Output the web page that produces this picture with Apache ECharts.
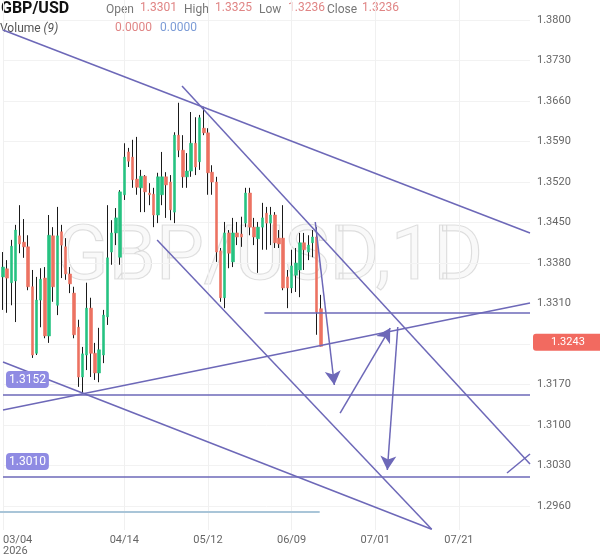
<!DOCTYPE html>
<html>
<head>
<meta charset="utf-8">
<script src="https://cdn.jsdelivr.net/npm/echarts@6/dist/echarts.min.js"></script>
<style>
  html, body { margin: 0; padding: 0; background: #fff; }
  #chart { width: 600px; height: 558px; }
</style>
</head>
<body>
<div id="chart"></div>
<script>
// daily candles: [open, close, low, high]
const candles = [
  [1.3356, 1.3373, 1.3299, 1.3399], [1.3370, 1.3354, 1.3294, 1.3385], [1.3346, 1.3409, 1.3307, 1.3420],
  [1.3349, 1.3437, 1.3278, 1.3446], [1.3427, 1.3413, 1.3397, 1.3480], [1.3416, 1.3408, 1.3389, 1.3456],
  [1.3408, 1.3339, 1.3333, 1.3428], [1.3339, 1.3221, 1.3216, 1.3368], [1.3224, 1.3316, 1.3221, 1.3356],
  [1.3316, 1.3352, 1.3269, 1.3371], [1.3354, 1.3254, 1.3250, 1.3373], [1.3254, 1.3428, 1.3242, 1.3463],
  [1.3427, 1.3339, 1.3313, 1.3442], [1.3307, 1.3427, 1.3290, 1.3477], [1.3434, 1.3411, 1.3354, 1.3446],
  [1.3408, 1.3361, 1.3351, 1.3423], [1.3361, 1.3344, 1.3328, 1.3373], [1.3328, 1.3256, 1.3250, 1.3339],
  [1.3269, 1.3183, 1.3166, 1.3282], [1.3183, 1.3223, 1.3155, 1.3235], [1.3221, 1.3302, 1.3195, 1.3346],
  [1.3302, 1.3224, 1.3183, 1.3320], [1.3224, 1.3190, 1.3178, 1.3242], [1.3190, 1.3230, 1.3174, 1.3268],
  [1.3221, 1.3290, 1.3207, 1.3299], [1.3287, 1.3389, 1.3273, 1.3480], [1.3399, 1.3432, 1.3377, 1.3454],
  [1.3432, 1.3458, 1.3411, 1.3475], [1.3390, 1.3503, 1.3377, 1.3506], [1.3498, 1.3563, 1.3489, 1.3587],
  [1.3572, 1.3556, 1.3546, 1.3579], [1.3563, 1.3524, 1.3510, 1.3593], [1.3525, 1.3511, 1.3498, 1.3598],
  [1.3510, 1.3530, 1.3468, 1.3541], [1.3530, 1.3503, 1.3468, 1.3532], [1.3501, 1.3498, 1.3480, 1.3518],
  [1.3499, 1.3463, 1.3442, 1.3510], [1.3463, 1.3529, 1.3449, 1.3536], [1.3498, 1.3529, 1.3480, 1.3572],
  [1.3529, 1.3515, 1.3458, 1.3537], [1.3520, 1.3472, 1.3454, 1.3532], [1.3468, 1.3601, 1.3449, 1.3606],
  [1.3601, 1.3575, 1.3563, 1.3657], [1.3575, 1.3529, 1.3510, 1.3601], [1.3529, 1.3539, 1.3510, 1.3570],
  [1.3539, 1.3587, 1.3529, 1.3641], [1.3587, 1.3546, 1.3532, 1.3632], [1.3555, 1.3631, 1.3541, 1.3636],
  [1.3613, 1.3605, 1.3601, 1.3650], [1.3605, 1.3536, 1.3498, 1.3613], [1.3537, 1.3520, 1.3498, 1.3549],
  [1.3520, 1.3399, 1.3382, 1.3529], [1.3401, 1.3320, 1.3313, 1.3406], [1.3320, 1.3432, 1.3302, 1.3451],
  [1.3432, 1.3397, 1.3371, 1.3437], [1.3382, 1.3432, 1.3373, 1.3458], [1.3432, 1.3425, 1.3411, 1.3451],
  [1.3430, 1.3425, 1.3408, 1.3460], [1.3449, 1.3501, 1.3442, 1.3510], [1.3501, 1.3442, 1.3428, 1.3510],
  [1.3442, 1.3425, 1.3411, 1.3458], [1.3422, 1.3442, 1.3363, 1.3451], [1.3442, 1.3458, 1.3403, 1.3484],
  [1.3466, 1.3449, 1.3403, 1.3477], [1.3449, 1.3463, 1.3411, 1.3477], [1.3463, 1.3415, 1.3406, 1.3468],
  [1.3423, 1.3413, 1.3406, 1.3437], [1.3423, 1.3337, 1.3333, 1.3480], [1.3356, 1.3337, 1.3302, 1.3368],
  [1.3337, 1.3375, 1.3328, 1.3403], [1.3359, 1.3380, 1.3330, 1.3406], [1.3368, 1.3415, 1.3321, 1.3432],
  [1.3415, 1.3403, 1.3368, 1.3432], [1.3399, 1.3411, 1.3385, 1.3428], [1.3415, 1.3425, 1.3390, 1.3437],
  [1.3425, 1.3295, 1.3256, 1.3442], [1.3301, 1.3236, 1.3236, 1.3325]
]
// volume MA(9) shows 0.0000 for every day
const volumeMA = [
  0, 0, 0, 0, 0, 0, 0, 0, 0, 0, 0, 0, 0, 0, 0, 0, 0, 0, 0, 0, 0, 0, 0, 0, 0, 0,
  0, 0, 0, 0, 0, 0, 0, 0, 0, 0, 0, 0, 0, 0, 0, 0, 0, 0, 0, 0, 0, 0, 0, 0, 0, 0,
  0, 0, 0, 0, 0, 0, 0, 0, 0, 0, 0, 0, 0, 0, 0, 0, 0, 0, 0, 0, 0, 0, 0, 0, 0
]
const yTicks = [1.2960, 1.3030, 1.3100, 1.3170, 1.3240, 1.3310, 1.3380, 1.3450, 1.3520, 1.3590, 1.3660, 1.3730, 1.3800]
const xLabelDates = ['03/04', '04/14', '05/12', '06/09', '07/01', '07/21']
const lastPrice = 1.3243
const levels = [1.3152, 1.3010]
// drawings as [barIndex, price] pairs
const trendLines = [
  [[0, 1.37827], [126, 1.34319]],
  [[42.8, 1.36860], [126, 1.30327]],
  [[36.85, 1.34198], [102.5, 1.2920]],
  [[0, 1.32089], [102.5, 1.2920]],
  [[0, 1.31260], [126, 1.33109]],
  [[62.5, 1.3294], [126, 1.3294]],
  [[120.5, 1.30171], [126, 1.30500]]
]
const arrows = [
  [[74.66, 1.34509], [79.22, 1.31692]],
  [[80.6, 1.31208], [92.58, 1.32677]],
  [[94.39, 1.32694], [91.89, 1.30223]]
]
const ohlcLabels = ['Open', 'High', 'Low', 'Close']
const ohlcValues = ['1.3301', '1.3325', '1.3236', '1.3236']
const volumeValues = ['0.0000', '0.0000']

const TOTAL_BARS = 127
const lineColor = '#6d68b8'
const upColor = '#26c281'
const downColor = '#ec7262'

// trading days for the candles, calendar days after the last one
function buildDates () {
  const out = []
  const d = new Date(2026, 2, 4)
  const fmt = (t) => String(t.getMonth() + 1).padStart(2, '0') + '/' + String(t.getDate()).padStart(2, '0')
  while (out.length < candles.length) {
    const wd = d.getDay()
    if (wd !== 0 && wd !== 6) out.push(fmt(d))
    d.setDate(d.getDate() + 1)
  }
  while (out.length < TOTAL_BARS) {
    out.push(fmt(d))
    d.setDate(d.getDate() + 1)
  }
  return out
}
const dates = buildDates()
const bodies = candles.map(c => [c[0], c[1], Math.min(c[0], c[1]), Math.max(c[0], c[1])])
const showDate = (i, v) => xLabelDates.includes(v)

const lineData = trendLines.map(l => [{ coord: l[0] }, { coord: l[1] }])
levels.forEach(v => {
  lineData.push([
    {
      coord: [0, v],
      label: {
        show: true,
        position: 'insideStartTop',
        formatter: v.toFixed(4),
        color: '#fff',
        fontSize: 12,
        fontFamily: 'Roboto',
        backgroundColor: '#8f8be3',
        borderRadius: 4,
        padding: [3, 3, 2, 3],
        distance: [3, 7]
      }
    },
    { coord: [TOTAL_BARS - 1, v] }
  ])
})
arrows.forEach(a => {
  lineData.push([{ coord: a[0], symbol: 'none' }, { coord: a[1], symbol: 'arrow', symbolSize: [12, 14] }])
})
lineData.push([
  {
    coord: [0, lastPrice],
    lineStyle: { color: 'rgba(0,0,0,0)', width: 0 },
    label: {
      show: true,
      opacity: 1,
      position: 'end',
      formatter: lastPrice.toFixed(4),
      color: '#fff',
      fontSize: 11,
      fontFamily: 'Roboto',
      backgroundColor: '#f26a60',
      borderRadius: 3,
      padding: [3, 18, 3, 18],
      distance: 3
    }
  },
  { coord: [TOTAL_BARS - 1, lastPrice] }
])

const headerText = [
  { type: 'text', left: 1, top: 1, style: { text: 'GBP/USD', font: 'bold 16px Roboto', fill: '#111' } },
  { type: 'text', left: 0, top: 23, style: { text: 'Volume {i|(9)}', font: '12px Roboto', fill: '#555', rich: { i: { fontStyle: 'italic', fontSize: 12, fontFamily: 'Roboto', fill: '#555' } } } }
]
const labelX = [106, 184, 259, 327]
const valueX = [140, 215, 288, 362]
ohlcLabels.forEach((t, i) => {
  headerText.push({ type: 'text', left: labelX[i], top: 4, style: { text: t, font: '12px Roboto', fill: '#777' } })
  headerText.push({ type: 'text', left: valueX[i], top: 2, style: { text: ohlcValues[i], font: '12px Roboto', fill: '#e08585' } })
})
headerText.push({ type: 'text', left: 115, top: 22, style: { text: volumeValues[0], font: '12px Roboto', fill: '#e08585' } })
headerText.push({ type: 'text', left: 160, top: 22, style: { text: volumeValues[1], font: '12px Roboto', fill: '#7b9bd6' } })

const chart = echarts.init(document.getElementById('chart'))
const option = {
  animation: false,
  backgroundColor: '#fff',
  graphic: [
    {
      type: 'text',
      x: 270,
      y: 260,
      z: -10,
      silent: true,
      style: {
        text: 'GBP/USD,1D',
        font: '76px Roboto',
        fill: 'rgba(0,0,0,0.025)',
        stroke: 'rgba(0,0,0,0.12)',
        lineWidth: 1.2,
        textAlign: 'center',
        textVerticalAlign: 'middle'
      }
    },
    ...headerText
  ],
  grid: [
    { left: 0, right: 70, top: 0, bottom: 28 },
    { left: 0, right: 70, top: 500, height: 12 }
  ],
  xAxis: [
    {
      type: 'category',
      data: dates,
      boundaryGap: false,
      axisLine: { show: false },
      axisTick: { show: false },
      axisLabel: {
        interval: showDate,
        formatter: (v, i) => (i === 0 ? v + '\n2026' : v),
        color: '#666',
        fontSize: 11,
        fontFamily: 'Roboto',
        lineHeight: 11,
        margin: 5,
        alignMinLabel: 'left'
      },
      splitLine: { show: true, interval: showDate, lineStyle: { color: '#f0f0f0', width: 1 } }
    },
    { type: 'value', min: 0, max: TOTAL_BARS - 1, show: false },
    { type: 'category', gridIndex: 1, data: dates, boundaryGap: false, show: false }
  ],
  yAxis: [
    {
      type: 'value',
      position: 'right',
      min: 1.29186,
      max: 1.38346,
      axisLine: { show: false },
      axisTick: { show: false, customValues: yTicks },
      axisLabel: {
        customValues: yTicks,
        formatter: v => v.toFixed(4),
        color: '#666',
        fontSize: 11,
        fontFamily: 'Roboto',
        margin: 7,
        align: 'left'
      },
      splitLine: { show: true, lineStyle: { color: '#f2f2f2', width: 1 } }
    },
    { type: 'value', gridIndex: 1, min: 0, max: 1, show: false }
  ],
  series: [
    {
      name: 'wick',
      type: 'candlestick',
      data: candles,
      barWidth: 1,
      itemStyle: { color: '#1a1a1a', color0: '#1a1a1a', borderColor: '#1a1a1a', borderColor0: '#1a1a1a', borderWidth: 1 }
    },
    {
      name: 'body',
      type: 'candlestick',
      data: bodies,
      barWidth: 3,
      itemStyle: { color: upColor, color0: downColor, borderColor: upColor, borderColor0: downColor, borderWidth: 0.6 }
    },
    {
      name: 'drawings',
      type: 'line',
      xAxisIndex: 1,
      yAxisIndex: 0,
      data: [],
      silent: true,
      z: 5,
      markLine: {
        silent: true,
        animation: false,
        symbol: ['none', 'none'],
        lineStyle: { color: lineColor, width: 1.5, type: 'solid' },
        label: { show: false },
        emphasis: { disabled: true },
        data: lineData
      }
    },
    {
      name: 'Volume MA',
      type: 'line',
      xAxisIndex: 2,
      yAxisIndex: 1,
      data: volumeMA,
      showSymbol: false,
      lineStyle: { color: '#a9c5d8', width: 2 }
    }
  ]
}
chart.setOption(option)
</script>
</body>
</html>
